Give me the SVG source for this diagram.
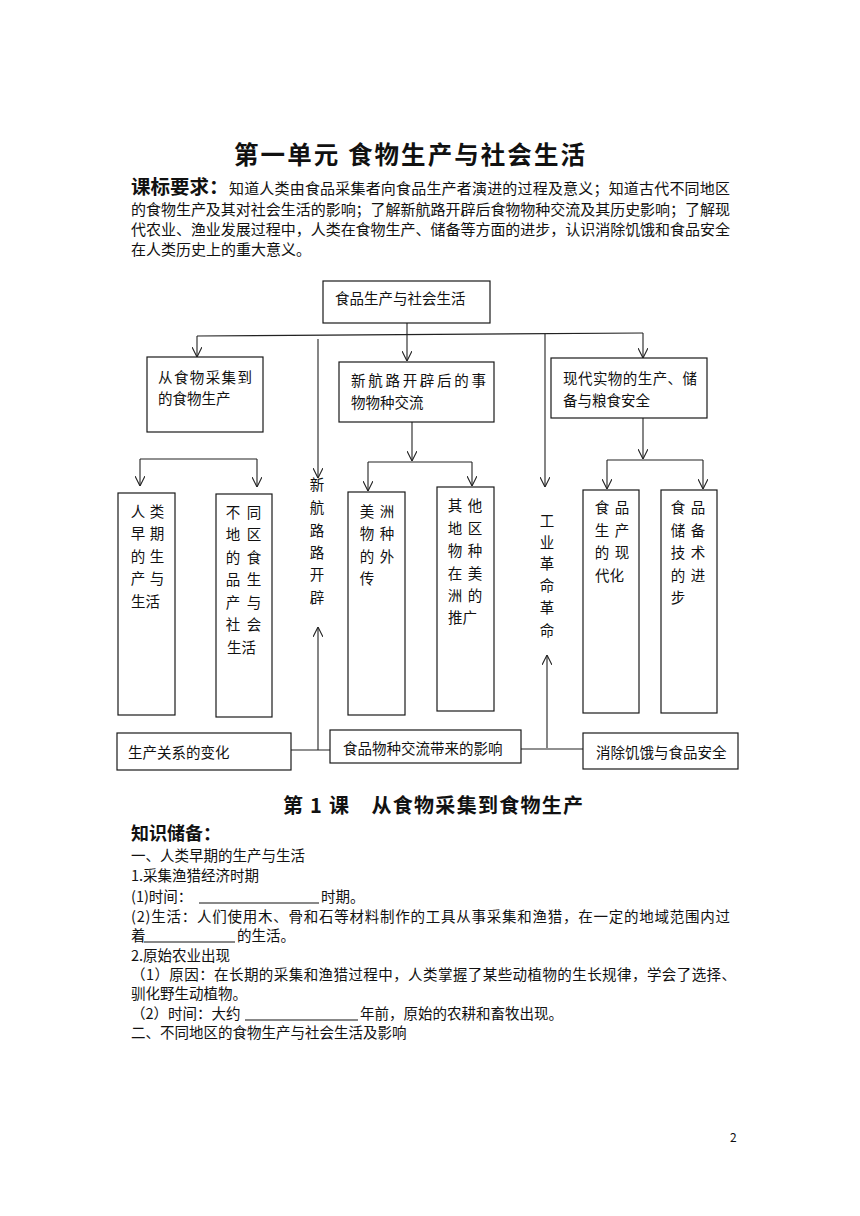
<svg xmlns="http://www.w3.org/2000/svg" width="860" height="1216" viewBox="0 0 860 1216">
<style>
text{font-family:"Noto Sans CJK SC","Noto Sans",sans-serif;fill:#111}
.t{font-size:14.5px}
.b{font-size:15px}
.p{font-size:14.5px}
.h{font-weight:bold}
.box{fill:#fff;stroke:#1a1a1a;stroke-width:1.2}
.ln{stroke:#222;stroke-width:1.1;fill:none}
.ul{stroke:#111;stroke-width:1}
</style>
<defs>
<marker id="arr" viewBox="0 0 10 10" refX="10" refY="5" markerWidth="10" markerHeight="10" markerUnits="userSpaceOnUse" orient="auto">
<path d="M0,0 L10,5 L0,10" fill="none" stroke="#222" stroke-width="1.1"/>
</marker>
</defs>
<rect width="860" height="1216" fill="#fff"/>

<g id="header">
<text x="234" y="164" class="h" font-size="24.5" textLength="351" lengthAdjust="spacing">第一单元  食物生产与社会生活</text>
<text x="131" y="194" class="h" font-size="19.5">课标要求：</text>
<text x="229" y="194" class="b" textLength="501" lengthAdjust="spacing">知道人类由食品采集者向食品生产者演进的过程及意义；知道古代不同地区</text>
<text x="131" y="215" class="b" textLength="599" lengthAdjust="spacing">的食物生产及其对社会生活的影响；了解新航路开辟后食物物种交流及其历史影响；了解现</text>
<text x="131" y="235" class="b" textLength="599" lengthAdjust="spacing">代农业、渔业发展过程中，人类在食物生产、储备等方面的进步，认识消除饥饿和食品安全</text>
<text x="131" y="255" class="b">在人类历史上的重大意义。</text>
</g>

<g id="connectors">
<line class="ln" x1="407" y1="323" x2="407" y2="361" marker-end="url(#arr)"/>
<line class="ln" x1="197" y1="336" x2="643" y2="333"/>
<line class="ln" x1="197" y1="336" x2="197" y2="357" marker-end="url(#arr)"/>
<line class="ln" x1="643" y1="333" x2="643" y2="358" marker-end="url(#arr)"/>
<line class="ln" x1="318" y1="339" x2="318" y2="478" marker-end="url(#arr)"/>
<line class="ln" x1="545" y1="334" x2="545" y2="487" marker-end="url(#arr)"/>
<line class="ln" x1="140" y1="459" x2="257" y2="459"/>
<line class="ln" x1="140" y1="459" x2="140" y2="486" marker-end="url(#arr)"/>
<line class="ln" x1="257" y1="459" x2="257" y2="487" marker-end="url(#arr)"/>
<line class="ln" x1="412" y1="422" x2="412" y2="461" marker-end="url(#arr)"/>
<line class="ln" x1="368" y1="462" x2="472" y2="462"/>
<line class="ln" x1="368" y1="462" x2="368" y2="491" marker-end="url(#arr)"/>
<line class="ln" x1="472" y1="462" x2="472" y2="486" marker-end="url(#arr)"/>
<line class="ln" x1="643" y1="418" x2="643" y2="459" marker-end="url(#arr)"/>
<line class="ln" x1="607" y1="460" x2="703" y2="460"/>
<line class="ln" x1="607" y1="460" x2="607" y2="489" marker-end="url(#arr)"/>
<line class="ln" x1="703" y1="460" x2="703" y2="489" marker-end="url(#arr)"/>
<line class="ln" x1="318" y1="750" x2="318" y2="627" marker-end="url(#arr)"/>
<line class="ln" x1="547" y1="748" x2="547" y2="655" marker-end="url(#arr)"/>
<line class="ln" x1="291" y1="750" x2="330" y2="750"/>
<line class="ln" x1="521" y1="749" x2="583" y2="749"/>
</g>

<g id="n_root">
<rect class="box" x="323" y="281" width="167" height="42"/>
<text class="t" x="335" y="304">食品生产与社会生活</text>
</g>
<g id="n_collect">
<rect class="box" x="147" y="357" width="116" height="75"/>
<text class="t" x="158" y="382.5" textLength="94" lengthAdjust="spacing">从食物采集到</text>
<text class="t" x="158" y="403.5">的食物生产</text>
</g>
<g id="n_exchange">
<rect class="box" x="339" y="362" width="155" height="60"/>
<text class="t" x="351" y="385.5" textLength="135" lengthAdjust="spacing">新航路开辟后的事</text>
<text class="t" x="351" y="407.5">物物种交流</text>
</g>
<g id="n_modern">
<rect class="box" x="551" y="358" width="156" height="60"/>
<text class="t" x="563" y="383.5" textLength="134" lengthAdjust="spacing">现代实物的生产、储</text>
<text class="t" x="563" y="405.5">备与粮食安全</text>
</g>

<g id="n_early">
<rect class="box" x="118" y="493" width="57" height="222"/>
<text class="t" x="130.7 149.7" y="516.5">人类</text>
<text class="t" x="130.7 149.7" y="538.5">早期</text>
<text class="t" x="130.7 149.7" y="561.5">的生</text>
<text class="t" x="130.7 149.7" y="583.5">产与</text>
<text class="t" x="131" y="606.5">生活</text>
</g>
<g id="n_regions">
<rect class="box" x="216" y="494" width="56" height="223"/>
<text class="t" x="225.7 246.7" y="517.5">不同</text>
<text class="t" x="225.7 246.7" y="539.5">地区</text>
<text class="t" x="225.7 246.7" y="562.5">的食</text>
<text class="t" x="225.7 246.7" y="584.5">品生</text>
<text class="t" x="225.7 246.7" y="607.5">产与</text>
<text class="t" x="225.7 246.7" y="629.5">社会</text>
<text class="t" x="227" y="652.5">生活</text>
</g>
<g id="n_route">
<text class="t" text-anchor="middle" x="317" y="489.5">新</text>
<text class="t" text-anchor="middle" x="317" y="512.5">航</text>
<text class="t" text-anchor="middle" x="317" y="535.5">路</text>
<text class="t" text-anchor="middle" x="317" y="557.5">路</text>
<text class="t" text-anchor="middle" x="317" y="579.5">开</text>
<text class="t" text-anchor="middle" x="317" y="602.5">辟</text>
</g>
<g id="n_americas">
<rect class="box" x="348" y="492" width="57" height="223"/>
<text class="t" x="359.7 379.7" y="516.5">美洲</text>
<text class="t" x="359.7 379.7" y="538.5">物种</text>
<text class="t" x="359.7 379.7" y="561.5">的外</text>
<text class="t" x="359.7" y="583.5">传</text>
</g>
<g id="n_other">
<rect class="box" x="437" y="487" width="57" height="224"/>
<text class="t" x="447.7 467.7" y="510.5">其他</text>
<text class="t" x="447.7 467.7" y="533.5">地区</text>
<text class="t" x="447.7 467.7" y="555.5">物种</text>
<text class="t" x="447.7 467.7" y="578.5">在美</text>
<text class="t" x="447.7 467.7" y="600.5">洲的</text>
<text class="t" x="448" y="622.5">推广</text>
</g>
<g id="n_industry">
<text class="t" text-anchor="middle" x="547" y="525.5">工</text>
<text class="t" text-anchor="middle" x="547" y="547.5">业</text>
<text class="t" text-anchor="middle" x="547" y="568.5">革</text>
<text class="t" text-anchor="middle" x="547" y="590.5">命</text>
<text class="t" text-anchor="middle" x="547" y="612.5">革</text>
<text class="t" text-anchor="middle" x="547" y="635.5">命</text>
</g>
<g id="n_modernize">
<rect class="box" x="583" y="490" width="56" height="223"/>
<text class="t" x="594.7 614.7" y="512.5">食品</text>
<text class="t" x="594.7 614.7" y="535.5">生产</text>
<text class="t" x="594.7 614.7" y="557.5">的现</text>
<text class="t" x="595" y="580.5">代化</text>
</g>
<g id="n_storage">
<rect class="box" x="661" y="490" width="56" height="223"/>
<text class="t" x="670.7 690.7" y="512.5">食品</text>
<text class="t" x="670.7 690.7" y="535.5">储备</text>
<text class="t" x="670.7 690.7" y="557.5">技术</text>
<text class="t" x="670.7 690.7" y="580.5">的进</text>
<text class="t" x="670.7" y="602.5">步</text>
</g>

<g id="n_relations">
<rect class="box" x="117" y="733" width="174" height="37"/>
<text class="t" x="128" y="757.5">生产关系的变化</text>
</g>
<g id="n_impact">
<rect class="box" x="330" y="730" width="191" height="33"/>
<text class="t" x="343" y="753.5">食品物种交流带来的影响</text>
</g>
<g id="n_hunger">
<rect class="box" x="583" y="733" width="155" height="36"/>
<text class="t" x="596" y="757.5">消除饥饿与食品安全</text>
</g>

<g id="lesson">
<text x="283" y="813" class="h" font-size="20" textLength="300" lengthAdjust="spacing">第 1 课　从食物采集到食物生产</text>
<text x="131" y="840" class="h" font-size="18">知识储备：</text>
<text x="131" y="860.5" class="p">一、人类早期的生产与生活</text>
<text x="131" y="880.5" class="p">1.采集渔猎经济时期</text>
<text x="131" y="901.5" class="p">(1)时间：</text>
<line class="ul" x1="199" y1="903" x2="319" y2="903"/>
<text x="321" y="901.5" class="p">时期。</text>
<text x="131" y="921.5" class="p" textLength="599" lengthAdjust="spacing">(2)生活：人们使用木、骨和石等材料制作的工具从事采集和渔猎，在一定的地域范围内过</text>
<text x="131" y="940.5" class="p">着</text>
<line class="ul" x1="144" y1="942" x2="235" y2="942"/>
<text x="237" y="940.5" class="p">的生活。</text>
<text x="131" y="960.5" class="p">2.原始农业出现</text>
<text x="131" y="979.5" class="p" textLength="605" lengthAdjust="spacing">（1）原因：在长期的采集和渔猎过程中，人类掌握了某些动植物的生长规律，学会了选择、</text>
<text x="131" y="998.5" class="p">驯化野生动植物。</text>
<text x="131" y="1018.5" class="p">（2）时间：大约</text>
<line class="ul" x1="245" y1="1020" x2="358" y2="1020"/>
<text x="360" y="1018.5" class="p">年前，原始的农耕和畜牧出现。</text>
<text x="131" y="1037.5" class="p">二、不同地区的食物生产与社会生活及影响</text>
<text x="730" y="1142" font-size="12" font-family="Liberation Sans, sans-serif">2</text>
</g>
</svg>
